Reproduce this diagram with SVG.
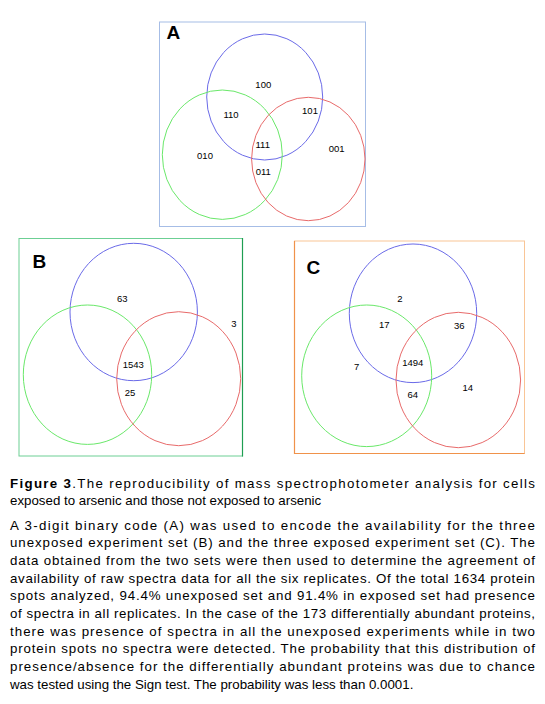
<svg xmlns="http://www.w3.org/2000/svg" width="545" height="704" viewBox="0 0 545 704">
<style>
.bg{fill:#ffffff}
.cb{fill:none;stroke:#6a6ae8;stroke-width:1}
.cg{fill:none;stroke:#6ae86a;stroke-width:1}
.cr{fill:none;stroke:#e86a6a;stroke-width:1}
.num{font-family:"Liberation Sans",Arial,sans-serif;font-size:9.5px;fill:#000;text-anchor:middle}
.lab{font-family:"Liberation Sans",Arial,sans-serif;font-size:19px;font-weight:bold;fill:#000}
.cap{font-family:"Liberation Sans",Arial,sans-serif;font-size:13.3px;fill:#000}
.b{font-weight:bold}
</style>
<rect class="bg" x="0" y="0" width="545" height="704"/>
<g id="panelA">
<rect x="159.5" y="22" width="206" height="204.5" fill="none" stroke="#a6bde6" stroke-width="1"/>
<text class="lab" x="166.5" y="38.5">A</text>
<ellipse class="cb" cx="264.7" cy="97" rx="58" ry="63"/>
<ellipse class="cg" cx="222.3" cy="154.7" rx="60" ry="64.7"/>
<ellipse class="cr" cx="308.3" cy="159" rx="56.7" ry="61.7"/>
<text class="num" x="263.3" y="87.8">100</text>
<text class="num" x="231" y="118.4">110</text>
<text class="num" x="310" y="114">101</text>
<text class="num" x="262.7" y="148.4">111</text>
<text class="num" x="205" y="159">010</text>
<text class="num" x="336.7" y="151.7">001</text>
<text class="num" x="263.3" y="175">011</text>
</g>
<g id="panelB">
<rect x="19" y="238.5" width="223.5" height="217.5" fill="none" stroke="#6ccf94" stroke-width="1"/>
<line x1="242.5" y1="238" x2="242.5" y2="456.5" stroke="#1f9e52" stroke-width="1.2"/>
<text class="lab" x="32.5" y="267.5">B</text>
<ellipse class="cb" cx="133.7" cy="312" rx="63.7" ry="68.7"/>
<ellipse class="cg" cx="87.5" cy="374.7" rx="64.2" ry="69.7"/>
<ellipse class="cr" cx="178.7" cy="378.7" rx="62" ry="67"/>
<text class="num" x="122.3" y="301.6">63</text>
<text class="num" x="234" y="327.3">3</text>
<text class="num" x="133.3" y="367.6">1543</text>
<text class="num" x="130" y="395.6">25</text>
</g>
<g id="panelC">
<rect x="294.5" y="241" width="230" height="212.5" fill="none" stroke="#f9c596" stroke-width="1"/>
<path d="M294.5 241 V453.5 H524.5" fill="none" stroke="#f0924a" stroke-width="1.2"/>
<text class="lab" x="306.5" y="273.5">C</text>
<ellipse class="cb" cx="413" cy="313.3" rx="63.7" ry="69.3"/>
<ellipse class="cg" cx="366.7" cy="375.8" rx="65" ry="70.8"/>
<ellipse class="cr" cx="458.3" cy="380" rx="62.3" ry="67.7"/>
<text class="num" x="400" y="301.6">2</text>
<text class="num" x="384.3" y="327.6">17</text>
<text class="num" x="459.3" y="329.3">36</text>
<text class="num" x="356.7" y="370">7</text>
<text class="num" x="412.7" y="365.6">1494</text>
<text class="num" x="467.7" y="391">14</text>
<text class="num" x="412.7" y="397.6">64</text>
</g>
<g id="caption">
<text class="cap" x="10" y="487.5" textLength="525" lengthAdjust="spacing"><tspan class="b">Figure 3</tspan>.The reproducibility of mass spectrophotometer analysis for cells</text>
<text class="cap" x="10" y="505">exposed to arsenic and those not exposed to arsenic</text>
<text class="cap" x="10" y="529.8" textLength="525" lengthAdjust="spacing">A 3-digit binary code (A) was used to encode the availability for the three</text>
<text class="cap" x="10" y="547.4" textLength="525" lengthAdjust="spacing">unexposed experiment set (B) and the three exposed experiment set (C). The</text>
<text class="cap" x="10" y="565.1" textLength="525" lengthAdjust="spacing">data obtained from the two sets were then used to determine the agreement of</text>
<text class="cap" x="10" y="582.7" textLength="525" lengthAdjust="spacing">availability of raw spectra data for all the six replicates. Of the total 1634 protein</text>
<text class="cap" x="10" y="600.3" textLength="525" lengthAdjust="spacing">spots analyzed, 94.4% unexposed set and 91.4% in exposed set had presence</text>
<text class="cap" x="10" y="617.9" textLength="525" lengthAdjust="spacing">of spectra in all replicates. In the case of the 173 differentially abundant proteins,</text>
<text class="cap" x="10" y="635.6" textLength="525" lengthAdjust="spacing">there was presence of spectra in all the unexposed experiments while in two</text>
<text class="cap" x="10" y="653.2" textLength="525" lengthAdjust="spacing">protein spots no spectra were detected. The probability that this distribution of</text>
<text class="cap" x="10" y="670.8" textLength="525" lengthAdjust="spacing">presence/absence for the differentially abundant proteins was due to chance</text>
<text class="cap" x="10" y="688.5">was tested using the Sign test. The probability was less than 0.0001.</text>
</g>
</svg>
